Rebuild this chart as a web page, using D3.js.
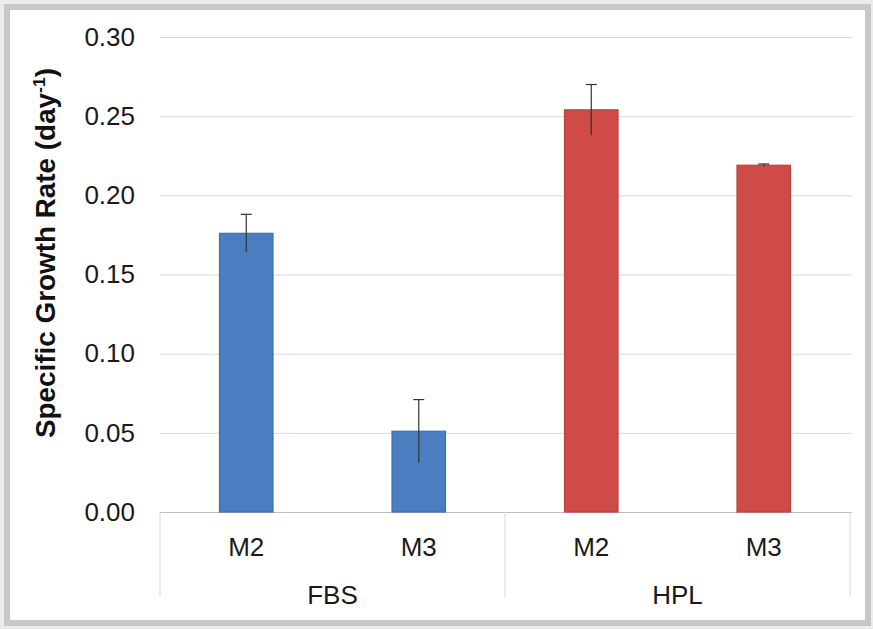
<!DOCTYPE html>
<html>
<head>
<meta charset="utf-8">
<script src="https://cdn.jsdelivr.net/npm/d3@7"></script>
<style>
  html, body { margin: 0; padding: 0; background: #ebebed; }
  svg { display: block; font-family: "Liberation Sans", Arial, sans-serif; }
</style>
</head>
<body>
<svg id="chart" width="873" height="629"></svg>
<script>
// Specific growth rate per medium, grouped by supplement
const supplements = ["FBS", "FBS", "HPL", "HPL"];
const media = ["M2", "M3", "M2", "M3"];
const growthRates = [0.176, 0.051, 0.254, 0.219];
const growthErrors = [0.012, 0.020, 0.016, 0.0008];
const groupNames = ["FBS", "HPL"];
const yTicks = [0, 0.05, 0.10, 0.15, 0.20, 0.25, 0.30];
const barColors = { FBS: "#4a7ec0", HPL: "#cf4b48" };
const barEdges = { FBS: "#3d6fae", HPL: "#bb403d" };

const svg = d3.select("#chart");
const W = 873, H = 629;

// panel with grey frame
svg.append("rect").attr("x", 0).attr("y", 0).attr("width", W).attr("height", H).attr("fill", "#ebebed");
svg.append("rect").attr("x", 7).attr("y", 7).attr("width", 861).attr("height", 616)
  .attr("fill", "#ffffff").attr("stroke", "#c7c7c7").attr("stroke-width", 6);

const plotLeft = 160, plotRight = 850, plotTop = 37, plotBottom = 512;

const x = d3.scaleBand().domain(d3.range(media.length)).range([plotLeft, plotRight]).padding(0);
const y = d3.scaleLinear().domain([0, 0.30]).range([plotBottom, plotTop]);

// value axis with gridlines
const yAxis = svg.append("g")
  .attr("transform", `translate(${plotLeft},0)`)
  .call(d3.axisLeft(y).tickValues(yTicks).tickFormat(d3.format(".2f"))
    .tickSize(-(plotRight - plotLeft + 2)).tickPadding(25));
yAxis.select(".domain").remove();
yAxis.selectAll(".tick line")
  .attr("stroke", d => d === 0 ? "#bfbfbf" : "#d9d9d9")
  .attr("stroke-width", 1);
yAxis.selectAll(".tick text")
  .attr("font-size", 26).attr("fill", "#1a1a1a")
  .attr("font-family", "'Liberation Sans', Arial, sans-serif");

// bars
const idx = d3.range(media.length);
const barW = x.bandwidth() * 0.31;
svg.append("g").selectAll("rect").data(idx).join("rect")
  .attr("x", i => x(i) + (x.bandwidth() - barW) / 2)
  .attr("y", i => y(growthRates[i]))
  .attr("width", barW)
  .attr("height", i => y(0) - y(growthRates[i]))
  .attr("fill", i => barColors[supplements[i]])
  .attr("stroke", i => barEdges[supplements[i]])
  .attr("stroke-width", 1.2);

// error bars
const err = svg.append("g").attr("stroke", "#333333").attr("stroke-width", 1.2);
idx.forEach(i => {
  const cx = x(i) + x.bandwidth() / 2;
  const y1 = y(growthRates[i] + growthErrors[i]);
  const y2 = y(growthRates[i] - growthErrors[i]);
  err.append("line").attr("x1", cx).attr("x2", cx).attr("y1", y1).attr("y2", y2);
  err.append("line").attr("x1", cx - 5.5).attr("x2", cx + 5.5).attr("y1", y1).attr("y2", y1);
});

// category labels
svg.append("g").selectAll("text").data(idx).join("text")
  .attr("x", i => x(i) + x.bandwidth() / 2)
  .attr("y", 556)
  .attr("text-anchor", "middle")
  .attr("font-size", 26).attr("fill", "#1a1a1a")
  .text(i => media[i]);

// group separators and group labels
const groupX = d3.scaleBand().domain(groupNames).range([plotLeft, plotRight]).padding(0);
const seps = [plotLeft, plotLeft + groupX.bandwidth(), plotRight];
svg.append("g").selectAll("line").data(seps).join("line")
  .attr("x1", d => d).attr("x2", d => d)
  .attr("y1", plotBottom).attr("y2", 597)
  .attr("stroke", "#d9d9d9").attr("stroke-width", 1);
svg.append("g").selectAll("text").data(groupNames).join("text")
  .attr("x", d => groupX(d) + groupX.bandwidth() / 2)
  .attr("y", 604)
  .attr("text-anchor", "middle")
  .attr("font-size", 26).attr("fill", "#1a1a1a")
  .text(d => d);

// y-axis title
const title = svg.append("text")
  .attr("transform", "translate(55,253) rotate(-90)")
  .attr("text-anchor", "middle")
  .attr("font-size", 27).attr("font-weight", "bold").attr("fill", "#111111")
  .attr("textLength", 370).attr("lengthAdjust", "spacingAndGlyphs");
title.append("tspan").text("Specific Growth Rate (day");
title.append("tspan").attr("font-size", 17).attr("dy", -10).text("-1");
title.append("tspan").attr("dy", 10).text(")");
</script>
</body>
</html>
